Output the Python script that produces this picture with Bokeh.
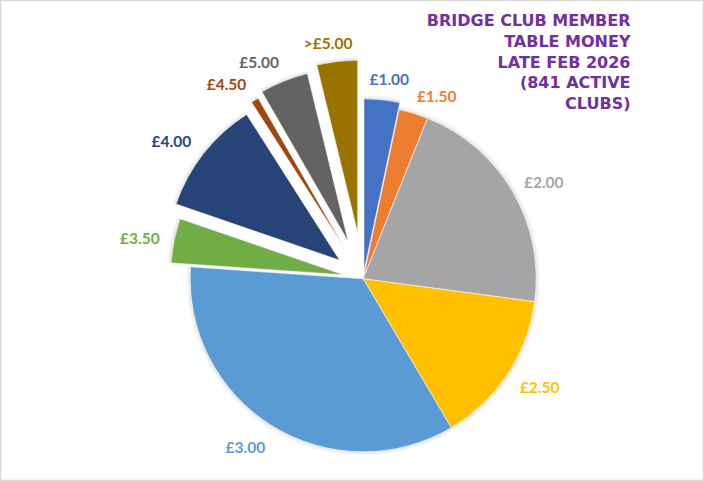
import math
from bokeh.plotting import figure
from bokeh.models import Range1d, ColumnDataSource
from bokeh.embed import file_html
from bokeh.resources import INLINE
from bokeh.core.properties import value

# ---- data ----
categories = ["£1.00", "£1.50", "£2.00", "£2.50", "£3.00", "£3.50", "£4.00", "£4.50", "£5.00", ">£5.00"]
clubs = [28, 23, 177, 121, 291, 35, 90, 6, 38, 32]
title_lines = ["BRIDGE CLUB MEMBER", "TABLE MONEY", "LATE FEB 2026", "(841 ACTIVE", "CLUBS)"]

# ---- style ----
colors = ["#4472C4", "#ED7D31", "#A5A5A5", "#FFC000", "#5B9BD5",
          "#70AD47", "#264478", "#9E480E", "#636363", "#997300"]
explode = [7, 0, 0, 0, 0, 20, 30, 36, 40, 46]
label_gap = [21, 24, 32, 34, 32, 34, 33, 29, 28, 19]
label_nudge = [1.5, 5, 2, -2, 3.4, -1.2, -3, -4.5, -4.5, -2]

W, H = 704, 481
CX, CY = 362.7, -278.3
R = 173

p = figure(width=W, height=H,
           x_range=Range1d(0, W), y_range=Range1d(-H, 0),
           output_backend="svg", toolbar_location=None, min_border=0,
           x_axis_location=None, y_axis_location=None)
p.xgrid.visible = False
p.ygrid.visible = False
p.outline_line_color = "#d9d9d9"
p.outline_line_width = 1.5
p.background_fill_color = "white"
p.border_fill_color = "white"

total = float(sum(clubs))
xs, ys, starts, ends, lx, ly = [], [], [], [], [], []
cum = 0.0
for i, v in enumerate(clubs):
    s = cum / total * 2 * math.pi
    e = (cum + v) / total * 2 * math.pi
    cum += v
    mid = math.pi / 2 - (s + e) / 2
    cx = CX + explode[i] * math.cos(mid)
    cy = CY + explode[i] * math.sin(mid)
    xs.append(cx)
    ys.append(cy)
    starts.append(math.pi / 2 - s)
    ends.append(math.pi / 2 - e)
    la = mid - math.radians(label_nudge[i])
    d = R + label_gap[i]
    lx.append(cx + d * math.cos(la))
    ly.append(cy + d * math.sin(la))

src = ColumnDataSource(dict(x=xs, y=ys, start=starts, end=ends, color=colors,
                            lx=lx, ly=ly, label=categories))

# soft shadow
for k, a in [(4, 0.05), (2.5, 0.07), (1.2, 0.09)]:
    p.wedge(x="x", y="y", radius=R + k, start_angle="start", end_angle="end",
            direction="clock", fill_color="#808080", fill_alpha=a, line_color=None,
            source=src)

p.wedge(x="x", y="y", radius=R, start_angle="start", end_angle="end",
        direction="clock", fill_color="color", line_color="white", line_width=0.6,
        source=src)

p.text(x="lx", y="ly", text="label", text_color="color", text_font=value("Lato"),
       text_font_style="bold", text_font_size="15.5px", text_align="center",
       text_baseline="middle", source=src)

tx = [630] * len(title_lines)
ty = [-(20 + i * 20.8) for i in range(len(title_lines))]
p.text(x=tx, y=ty, text=title_lines, text_color="#7030A0",
       text_font=value("DejaVu Sans"), text_font_style="bold", text_font_size="16px",
       text_align="right", text_baseline="middle")

open("out.html", "w").write(file_html(p, INLINE))
